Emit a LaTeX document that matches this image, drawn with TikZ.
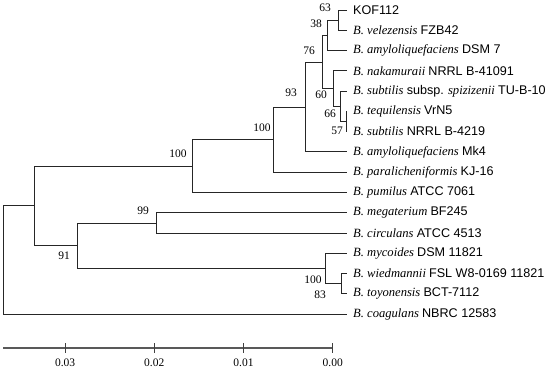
\documentclass[tikz,border=0pt]{standalone}
\usepackage{fontspec}
\setmainfont{Liberation Serif}
\setsansfont{Liberation Sans}
\usepackage{tikz}
\usetikzlibrary{positioning}
\newcommand{\taxon}[2]{\textit{#1}~\textsf{#2}}

\begin{document}
\begin{tikzpicture}[x=1pt,y=-1pt,
  branch/.style={draw=black!85,line width=0.8pt},
  leaf/.style={anchor=west,inner xsep=6pt,inner ysep=0pt,font=\fontsize{12.6}{13}\selectfont},
  boot/.style={inner sep=0pt,font=\fontsize{11.5}{12}\selectfont}]
  \useasboundingbox (0,0) rectangle (550,372);
  % leaves (taxa) on the right
  \foreach \i/\txt in {0/{\textsf{KOF112}},
      1/{\taxon{B. velezensis}{FZB42}},
      2/{\taxon{B. amyloliquefaciens}{DSM 7}},
      3/{\taxon{B. nakamuraii}{NRRL B-41091}},
      4/{\textit{B. subtilis} \textsf{subsp.} \textit{spizizenii} \textsf{TU-B-10}},
      5/{\taxon{B. tequilensis}{VrN5}},
      6/{\taxon{B. subtilis}{NRRL B-4219}},
      7/{\taxon{B. amyloliquefaciens}{Mk4}},
      8/{\taxon{B. paralicheniformis}{KJ-16}},
      9/{\taxon{B. pumilus}{ATCC 7061}},
      10/{\taxon{B. megaterium}{BF245}},
      11/{\taxon{B. circulans}{ATCC 4513}},
      12/{\taxon{B. mycoides}{DSM 11821}},
      13/{\taxon{B. wiedmannii}{FSL W8-0169 11821}},
      14/{\taxon{B. toyonensis}{BCT-7112}},
      15/{\taxon{B. coagulans}{NBRC 12583}}} {
    \node[leaf] (t\i) at (347,10+20.27*\i) {\txt};
  }
  % inner nodes
  \coordinate (n63)  at (338.3,20.1);
  \coordinate (n38)  at (327.7,35.3);
  \coordinate (n57)  at (346.0,121.5);
  \coordinate (n66)  at (340.7,106.3);
  \coordinate (n60)  at (333.3,88.6);
  \coordinate (n76)  at (322.3,62.0);
  \coordinate (n93)  at (305.0,107.0);
  \coordinate (nPa)  at (273.3,139.6);
  \coordinate (nPu)  at (192.7,166.0);
  \coordinate (n99)  at (156.0,222.9);
  \coordinate (n83)  at (341.0,283.7);
  \coordinate (nCe)  at (325.0,268.4);
  \coordinate (n91)  at (77.5,245.7);
  \coordinate (nA)   at (34.7,205.8);
  \coordinate (root) at (3.5,260.0);
  % branches
  \draw[branch] (n63) |- (t0.west)  (n63) |- (t1.west);
  \draw[branch] (n38) |- (n63)      (n38) |- (t2.west);
  \draw[branch] (n57) |- (t5.west)  (n57) |- (t6.west);
  \draw[branch] (n66) |- (t4.west)  (n66) |- (n57);
  \draw[branch] (n60) |- (t3.west)  (n60) |- (n66);
  \draw[branch] (n76) |- (n38)      (n76) |- (n60);
  \draw[branch] (n93) |- (n76)      (n93) |- (t7.west);
  \draw[branch] (nPa) |- (n93)      (nPa) |- (t8.west);
  \draw[branch] (nPu) |- (nPa)      (nPu) |- (t9.west);
  \draw[branch] (n99) |- (t10.west) (n99) |- (t11.west);
  \draw[branch] (n83) |- (t13.west) (n83) |- (t14.west);
  \draw[branch] (nCe) |- (t12.west) (nCe) |- (n83);
  \draw[branch] (n91) |- (n99)      (n91) |- (nCe);
  \draw[branch] (nA) |- (nPu)       (nA) |- (n91);
  \draw[branch] (root) |- (nA)      (root) |- (t15.west);
  % bootstrap values
  \node[boot] (b63) at (325,8) {63};
  \node[boot] (b38) at (316,24) {38};
  \node[boot] (b76) at (309,51) {76};
  \node[boot] (b93) at (291,93) {93};
  \node[boot] (b60) at (321,95) {60};
  \node[boot] (b66) at (330,114) {66};
  \node[boot] (b57) at (337,131) {57};
  \node[boot] (bPa) at (262,128) {100};
  \node[boot] (bPu) at (178,154) {100};
  \node[boot] (b99) at (143,211) {99};
  \node[boot] (b91) at (64,256) {91};
  \node[boot] (bCe) at (313,280) {100};
  \node[boot] (b83) at (320,295) {83};
  % scale bar
  \draw[draw=black!65,line width=1.2pt] (3,348) -- (332.7,348);
  \foreach \v/\x [count=\k] in {0.03/65.1,0.02/154.3,0.01/243.5,0.00/332.7} {
    \draw[draw=black!75,line width=0.8pt] (\x,343) -- (\x,353);
    \node[boot] (tick\k) at (\x,363) {\v};
  }
\end{tikzpicture}
\end{document}
